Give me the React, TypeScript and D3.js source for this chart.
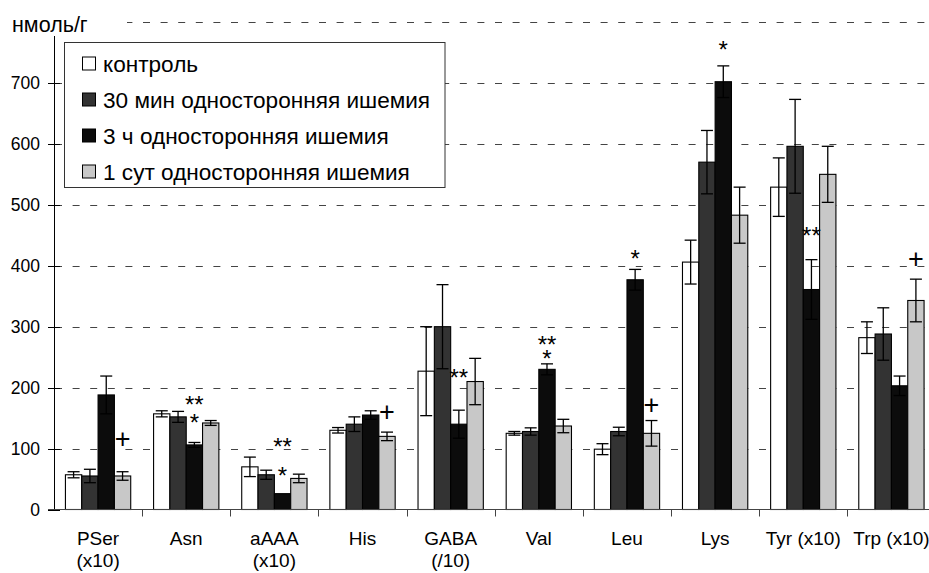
import React, { useEffect, useRef } from "react";
import * as d3 from "d3";

// categories (x axis), lines of each label
const categories = [
  ["PSer", "(x10)"],
  ["Asn"],
  ["aAAA", "(x10)"],
  ["His"],
  ["GABA", "(/10)"],
  ["Val"],
  ["Leu"],
  ["Lys"],
  ["Tyr (x10)"],
  ["Trp (x10)"],
];

const seriesNames = [
  "контроль",
  "30 мин односторонняя ишемия",
  "3 ч односторонняя ишемия",
  "1 сут односторонняя ишемия",
];
const seriesColors = ["#ffffff", "#333333", "#0c0c0c", "#c8c8c8"];

// means, нмоль/г
const control = [57, 157, 70, 130, 227, 125, 99, 406, 529, 282];
const min30 = [55, 152, 57, 140, 300, 128, 128, 570, 596, 288];
const hour3 = [188, 106, 26, 155, 140, 230, 377, 702, 361, 203];
const day1 = [55, 142, 51, 120, 210, 137, 125, 483, 550, 343];

// error (±)
const controlErr = [5, 5, 16, 4.5, 73, 3, 9, 36, 48, 26];
const min30Err = [11, 9, 7.5, 12, 69, 6, 7, 52, 77, 43];
const hour3Err = [31, 4, 0, 7, 23, 9, 17, 26, 49, 16];
const day1Err = [7, 4, 7, 7, 38, 11, 21, 46, 46, 35];

const yTicks = [0, 100, 200, 300, 400, 500, 600, 700];
const gridValues = [100, 200, 300, 400, 500, 600, 700, 800];

// significance marks: category, bar, stacked texts with the value at each mark's centre
const marks = [
  { cat: 0, bar: 3, texts: ["+"], values: [116] },
  { cat: 1, bar: 2, texts: ["**", "*"], values: [181, 151] },
  { cat: 2, bar: 2, texts: ["**", "*"], values: [112, 65] },
  { cat: 3, bar: 3, texts: ["+"], values: [160] },
  { cat: 4, bar: 2, texts: ["**"], values: [225] },
  { cat: 5, bar: 2, texts: ["**", "*"], values: [280, 256] },
  { cat: 6, bar: 2, texts: ["*"], values: [420] },
  { cat: 6, bar: 3, texts: ["+"], values: [172] },
  { cat: 7, bar: 2, texts: ["*"], values: [763] },
  { cat: 8, bar: 2, texts: ["**"], values: [458] },
  { cat: 9, bar: 3, texts: ["+"], values: [411] },
];

const FONT = "'Liberation Sans', Arial, sans-serif";

export default function App() {
  const svgRef = useRef<SVGSVGElement>(null);

  useEffect(() => {
    const svg = d3.select(svgRef.current);
    svg.selectAll("*").remove();

    const width = 929;
    const height = 573;
    const values = [control, min30, hour3, day1];
    const errors = [controlErr, min30Err, hour3Err, day1Err];

    const y = d3.scaleLinear().domain([0, 800]).range([509.5, 22]);
    const x0 = d3
      .scaleBand<number>()
      .domain(d3.range(categories.length))
      .range([54, 935.5]);
    const x1 = d3
      .scaleBand<number>()
      .domain(d3.range(4))
      .range([0, x0.bandwidth()])
      .paddingInner(0)
      .paddingOuter(0.7);
    const cx = (c: number, s: number) => x0(c)! + x1(s)! + x1.bandwidth() / 2;
    const py = (v: number) => Math.round(y(v)) + 0.5;

    svg.append("rect").attr("width", width).attr("height", height).attr("fill", "#fff");

    // grid
    svg
      .append("g")
      .selectAll("line")
      .data(gridValues)
      .join("line")
      .attr("x1", 55)
      .attr("x2", width)
      .attr("y1", py)
      .attr("y2", py)
      .attr("stroke", "#444")
      .attr("stroke-dasharray", "7,10.6");

    // bars
    const bars = svg.append("g");
    values.forEach((vals, s) => {
      bars
        .append("g")
        .selectAll("rect")
        .data(vals)
        .join("rect")
        .attr("x", (d, i) => x0(i)! + x1(s)!)
        .attr("y", (d) => y(d))
        .attr("width", x1.bandwidth())
        .attr("height", (d) => y(0) - y(d))
        .attr("fill", seriesColors[s])
        .attr("stroke", "#000")
        .attr("stroke-width", 1.1);
    });

    // error bars
    const err = svg.append("g").attr("stroke", "#000").attr("stroke-width", 1.3);
    values.forEach((vals, s) => {
      vals.forEach((v, i) => {
        const e = errors[s][i];
        if (!e) return;
        const x = cx(i, s);
        err.append("line").attr("x1", x).attr("x2", x).attr("y1", y(v + e)).attr("y2", y(v - e));
        [v + e, v - e].forEach((t) => {
          err.append("line").attr("x1", x - 6).attr("x2", x + 6).attr("y1", y(t)).attr("y2", y(t));
        });
      });
    });

    // y axis
    const yAx = svg.append("g");
    yAx.append("line").attr("x1", 54.5).attr("x2", 54.5).attr("y1", y(0)).attr("y2", y(800)).attr("stroke", "#000");
    yAx
      .selectAll("line.tick")
      .data(yTicks)
      .join("line")
      .attr("class", "tick")
      .attr("x1", 48)
      .attr("x2", 60)
      .attr("y1", py)
      .attr("y2", py)
      .attr("stroke", "#000");
    yAx
      .selectAll("text")
      .data(yTicks)
      .join("text")
      .attr("x", 40)
      .attr("y", (d) => y(d) + 6)
      .attr("text-anchor", "end")
      .attr("font-family", FONT)
      .attr("font-size", 17.5)
      .text((d) => d);

    // x axis
    const xAx = svg.append("g");
    xAx.append("line").attr("x1", 48).attr("x2", width).attr("y1", 509.5).attr("y2", 509.5).attr("stroke", "#444");
    xAx
      .selectAll("line.tick")
      .data(d3.range(1, categories.length))
      .join("line")
      .attr("class", "tick")
      .attr("x1", (d) => Math.round(x0(d)!) + 0.5)
      .attr("x2", (d) => Math.round(x0(d)!) + 0.5)
      .attr("y1", 509.5)
      .attr("y2", 516.5)
      .attr("stroke", "#444");
    categories.forEach((lines, i) => {
      lines.forEach((t, k) => {
        xAx
          .append("text")
          .attr("x", x0(i)! + x0.bandwidth() / 2)
          .attr("y", 545 + k * 22)
          .attr("text-anchor", "middle")
          .attr("font-family", FONT)
          .attr("font-size", 19)
          .text(t);
      });
    });

    // significance marks
    marks.forEach((m) => {
      const t = svg
        .append("text")
        .attr("text-anchor", "middle")
        .attr("font-family", FONT);
      m.texts.forEach((txt, k) => {
        const fs = txt === "+" ? 27 : 24;
        const off = txt === "+" ? 0.35 * fs : 0.57 * fs;
        t.append("tspan")
          .attr("x", cx(m.cat, m.bar))
          .attr("y", y(m.values[k]) + off)
          .attr("font-size", fs)
          .text(txt);
      });
    });

    // unit label
    svg.append("rect").attr("x", 0).attr("y", 0).attr("width", 127).attr("height", 36).attr("fill", "#fff");
    svg
      .append("text")
      .attr("x", 12)
      .attr("y", 32)
      .attr("font-family", FONT)
      .attr("font-size", 21.5)
      .text("нмоль/г");

    // legend
    const lg = svg.append("g");
    lg.append("rect")
      .attr("x", 64.5)
      .attr("y", 42.5)
      .attr("width", 380.5)
      .attr("height", 145)
      .attr("fill", "#fff")
      .attr("stroke", "#333");
    seriesNames.forEach((name, s) => {
      const cy = 63.5 + s * 36;
      lg.append("rect")
        .attr("x", 82.5)
        .attr("y", cy - 6.5)
        .attr("width", 13)
        .attr("height", 13)
        .attr("fill", seriesColors[s])
        .attr("stroke", "#000");
      lg.append("text")
        .attr("x", 103)
        .attr("y", cy + 8)
        .attr("font-family", FONT)
        .attr("font-size", 22.6)
        .text(name);
    });
  }, []);

  return (
    <svg
      ref={svgRef}
      width={929}
      height={573}
      style={{ position: "absolute", left: 0, top: 0 }}
    />
  );
}
